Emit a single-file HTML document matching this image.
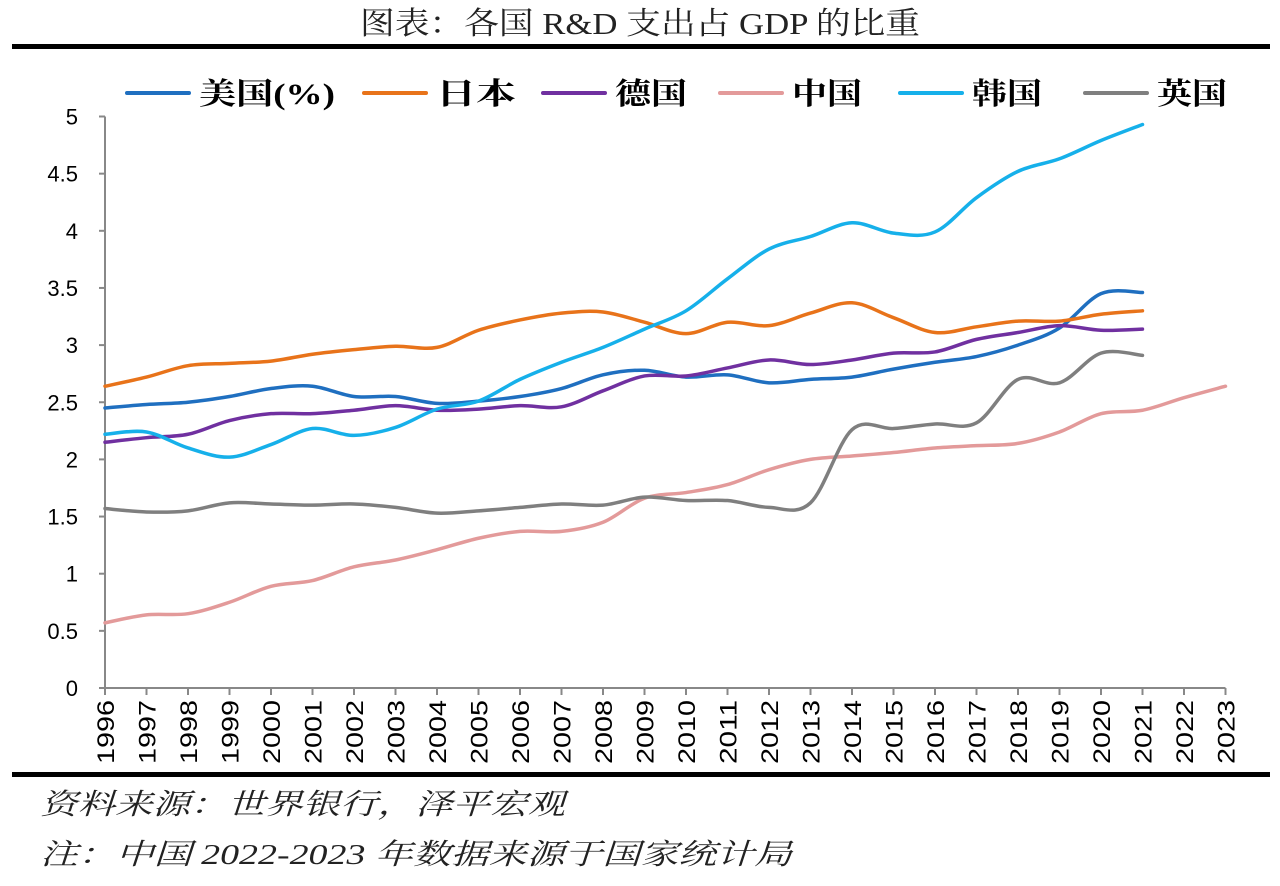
<!DOCTYPE html>
<html><head><meta charset="utf-8"><style>
body{margin:0;background:#fff;width:1280px;height:881px;overflow:hidden}
</style></head><body>
<svg id="s" width="1280" height="881" xmlns="http://www.w3.org/2000/svg">
<text x="360" y="34" textLength="560" lengthAdjust="spacingAndGlyphs" font-family="Liberation Serif, 'Noto Serif CJK SC', serif" font-size="31" fill="#222">图表：各国 R&amp;D 支出占 GDP 的比重</text>
<rect x="12" y="44" width="1258" height="5" fill="#000"/>
<rect x="12" y="772" width="1258" height="5" fill="#000"/>
<text x="40" y="814" textLength="525" lengthAdjust="spacingAndGlyphs" font-family="'Liberation Serif','Noto Serif CJK SC', serif" font-style="italic" font-size="29" fill="#222">资料来源：世界银行，泽平宏观</text>
<text x="40" y="864" textLength="752" lengthAdjust="spacingAndGlyphs" font-family="'Liberation Serif','Noto Serif CJK SC', serif" font-style="italic" font-size="29" fill="#222">注：中国 2022-2023 年数据来源于国家统计局</text>
<g id="ax" stroke="#888" stroke-width="2" fill="none"></g>
<g id="lab" font-family="Liberation Sans, sans-serif" font-size="22" fill="#000"></g>
<g id="ser" fill="none" stroke-width="3.5" stroke-linecap="round"></g>
<g id="leg" font-family="'Liberation Serif','Noto Serif CJK SC', serif" font-weight="bold" font-size="30" fill="#000"></g>
</svg>
<script>
const NS="http://www.w3.org/2000/svg";
function el(p,t,a,txt){const e=document.createElementNS(NS,t);for(const k in a)e.setAttribute(k,a[k]);if(txt!==undefined)e.textContent=txt;document.getElementById(p).appendChild(e);return e;}
const X0=105,DX=41.5,Y0=688,DY=114.3;
const X=i=>X0+DX*i,Y=v=>Y0-v*DY;
el('ax','line',{x1:X0,y1:Y(5),x2:X0,y2:Y0});
el('ax','line',{x1:X0,y1:Y0,x2:X(27),y2:Y0});
for(let k=0;k<=10;k++){const v=k/2;el('ax','line',{x1:X0-6,y1:Y(v),x2:X0,y2:Y(v)});
el('lab','text',{x:78,y:Y(v)+8,'text-anchor':'end'},String(v));}
for(let i=0;i<28;i++){el('ax','line',{x1:X(i),y1:Y0,x2:X(i),y2:Y0+7});
el('lab','text',{x:0,y:0,'text-anchor':'end',textLength:'64',lengthAdjust:'spacingAndGlyphs',transform:`translate(${X(i)+9},${Y0+12}) rotate(-90)`,'font-size':'24'},String(1996+i));}
const D={
us:["#1f6fc0",[2.45,2.48,2.50,2.55,2.62,2.64,2.55,2.55,2.49,2.51,2.55,2.62,2.74,2.78,2.72,2.74,2.67,2.70,2.72,2.79,2.85,2.90,3.00,3.15,3.45,3.46]],
jp:["#e8731a",[2.64,2.72,2.82,2.84,2.86,2.92,2.96,2.99,2.98,3.13,3.22,3.28,3.29,3.20,3.10,3.20,3.17,3.28,3.37,3.24,3.11,3.16,3.21,3.21,3.27,3.30]],
de:["#7030a0",[2.15,2.19,2.22,2.34,2.40,2.40,2.43,2.47,2.43,2.44,2.47,2.46,2.60,2.73,2.73,2.80,2.87,2.83,2.87,2.93,2.94,3.05,3.11,3.17,3.13,3.14]],
cn:["#e39a9a",[0.57,0.64,0.65,0.75,0.89,0.94,1.06,1.12,1.21,1.31,1.37,1.37,1.45,1.66,1.71,1.78,1.91,2.00,2.03,2.06,2.10,2.12,2.14,2.24,2.40,2.43,2.54,2.64]],
kr:["#16b0ea",[2.22,2.24,2.10,2.02,2.13,2.27,2.21,2.28,2.44,2.51,2.70,2.85,2.98,3.14,3.30,3.58,3.84,3.95,4.07,3.98,3.99,4.29,4.52,4.63,4.79,4.93]],
uk:["#7f7f7f",[1.57,1.54,1.55,1.62,1.61,1.60,1.61,1.58,1.53,1.55,1.58,1.61,1.60,1.67,1.64,1.64,1.58,1.62,2.26,2.27,2.31,2.32,2.70,2.67,2.93,2.91]]};
for(const k in D){const [c,v]=D[k];const p=v.map((y,i)=>[X(i),Y(y)]);
let d=`M${p[0][0]},${p[0][1]}`;
for(let i=0;i<p.length-1;i++){const a=p[Math.max(0,i-1)],b=p[i],q=p[i+1],r=p[Math.min(p.length-1,i+2)];
d+=`C${b[0]+(q[0]-a[0])/6},${b[1]+(q[1]-a[1])/6} ${q[0]-(r[0]-b[0])/6},${q[1]-(r[1]-b[1])/6} ${q[0]},${q[1]}`;}
el('ser','path',{d:d,stroke:c});}
const L=[["us",127,"美国(%)",136],["jp",364,"日本",80],["de",543,"德国",72],["cn",720,"中国",70],["kr",900,"韩国",70],["uk",1085,"英国",70]];
for(const [k,x,t,w] of L){el('leg','line',{x1:x,y1:93,x2:x+62,y2:93,stroke:D[k][0],'stroke-width':4,'stroke-linecap':'round'});
el('leg','text',{x:x+72,y:104,textLength:w,lengthAdjust:'spacingAndGlyphs'},t);}
</script>
</body></html>
